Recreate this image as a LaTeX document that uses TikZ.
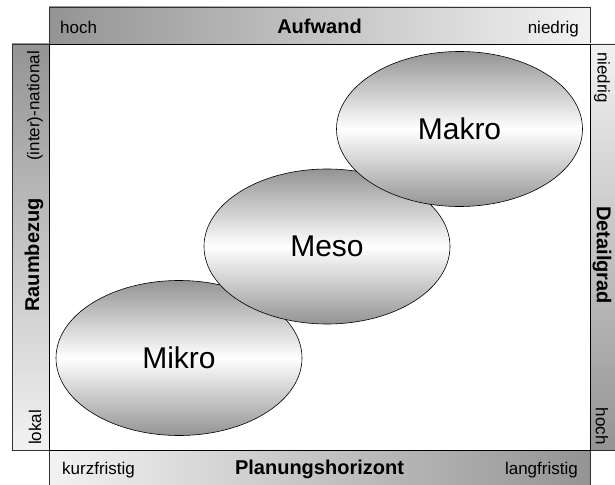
\documentclass[tikz,border=0pt]{standalone}
\usepackage{fontspec}
\setmainfont{Liberation Sans}
\usetikzlibrary{shapes.geometric}

% grey at the rim, white through the middle
\pgfdeclareverticalshading{levelshade}{100bp}{%
  color(0bp)=(black!42); color(25bp)=(black!42); color(50bp)=(white);
  color(75bp)=(black!42); color(100bp)=(black!42)}

\tikzset{
  bar/.style={draw=black!80, line width=0.7pt},
  endlabel/.style={inner sep=0pt, font=\fontsize{17}{20}\selectfont},
  axistitle/.style={inner sep=0pt, font=\bfseries\fontsize{20}{24}\selectfont},
  scalebox/.style={ellipse, draw=black, line width=0.6pt, inner sep=0pt,
    minimum width=246pt, minimum height=155pt,
    shading=levelshade,
    font=\fontsize{30}{36}\selectfont},
}

\begin{document}
\begin{tikzpicture}[x=1pt, y=-1pt]
\useasboundingbox (0,0) rectangle (615,484);
\clip (0,0) rectangle (615,484);

% axis bars with gradients
\path[bar, left color=black!42, right color=black!5] (49,7) rectangle (590,44);
\path[bar, left color=black!5, right color=black!42] (49,450) rectangle (590,488);
\path[bar, top color=black!42, bottom color=black!5] (12,44) rectangle (49,450);
\path[bar, top color=black!5, bottom color=black!42] (590,44) rectangle (628,450);

% central field
\path[draw=black, line width=0.7pt, fill=white] (49,44) rectangle (590,450);

% top axis
\node[endlabel, anchor=base west] (tl) at (60,34) {hoch};
\node[axistitle, anchor=base] (tt) at (319.5,34) {Aufwand};
\node[endlabel, anchor=base east] (tr) at (579,34) {niedrig};

% bottom axis
\node[endlabel, anchor=base west] (bl) at (62,474) {kurzfristig};
\node[axistitle, anchor=base] (bt) at (319.5,474) {Planungshorizont};
\node[endlabel, anchor=base east] (br) at (578,474) {langfristig};

% left axis
\node[endlabel, rotate=90, anchor=east] (lt) at (35,51) {(inter)-national};
\node[axistitle, rotate=90] (lm) at (34,255) {Raumbezug};
\node[endlabel, rotate=90, anchor=west] (lb) at (35,445) {lokal};

% right axis
\node[endlabel, rotate=-90, anchor=west] (rt) at (602,52) {niedrig};
\node[axistitle, rotate=-90] (rm) at (602,255) {Detailgrad};
\node[endlabel, rotate=-90, anchor=east] (rb) at (602,445) {hoch};

% the three scale levels
\node[scalebox] (mikro) at (179,358) {Mikro};
\node[scalebox] (meso) at (327,246.5) {Meso};
\node[scalebox] (makro) at (459.5,129) {Makro};
\end{tikzpicture}
\end{document}
